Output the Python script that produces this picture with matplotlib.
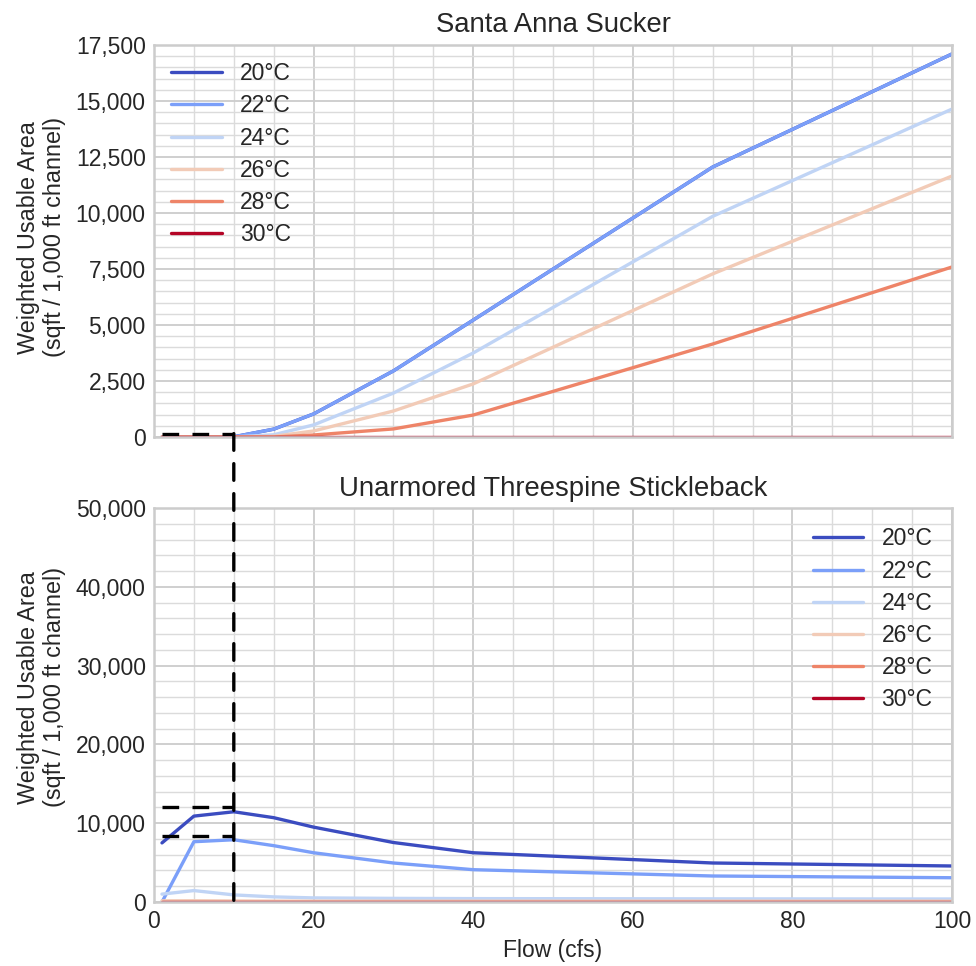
import matplotlib
matplotlib.use('Agg')
import matplotlib.pyplot as plt
import seaborn as sns
from matplotlib.patches import ConnectionPatch
from matplotlib.ticker import MultipleLocator, FuncFormatter

# Данные
flow = [1, 5, 10, 15, 20, 30, 40, 70, 100]
temps = ['20°C', '22°C', '24°C', '26°C', '28°C', '30°C']

sucker = {
    '20°C': [0, 0, 10, 350, 1030, 2950, 5220, 12050, 17100],
    '22°C': [0, 0, 10, 350, 1030, 2950, 5220, 12050, 17100],
    '24°C': [0, 0, 5, 100, 540, 1960, 3750, 9850, 14640],
    '26°C': [0, 0, 0, 30, 270, 1160, 2370, 7280, 11650],
    '28°C': [0, 0, 0, 0, 90, 360, 980, 4150, 7590],
    '30°C': [0, 0, 0, 0, 0, 0, 0, 0, 0],
}
stickleback = {
    '20°C': [7500, 10900, 11450, 10700, 9500, 7550, 6250, 4950, 4570],
    '22°C': [0, 7650, 7900, 7150, 6250, 4950, 4100, 3300, 3080],
    '24°C': [1000, 1450, 900, 650, 520, 460, 430, 400, 380],
    '26°C': [150, 160, 130, 110, 100, 100, 100, 100, 100],
    '28°C': [20, 20, 20, 20, 20, 20, 20, 20, 20],
    '30°C': [0, 0, 0, 0, 0, 0, 0, 0, 0],
}

# Пунктирные ориентиры
ref_flow = 10
ref_sucker = 150
ref_stickle = [12000, 8400]

sns.set_theme(style='whitegrid')
plt.rcParams['font.family'] = ['Liberation Sans', 'DejaVu Sans']
plt.rcParams['font.size'] = 16.5

colors = [plt.cm.coolwarm(i / 5) for i in range(6)]

fig = plt.figure(figsize=(9.76, 9.66), dpi=100)
ax1 = fig.add_axes([154 / 976, 1 - 437 / 966, 798 / 976, 392 / 966])
ax2 = fig.add_axes([154 / 976, 1 - 902 / 966, 798 / 976, 394 / 966])

fmt = FuncFormatter(lambda v, p: f'{int(v):,}')
ylab = 'Weighted Usable Area\n(sqft / 1,000 ft channel)'

for ax, data, ymax, ymaj, ymin, ly in [(ax1, sucker, 17500, 2500, 500, 0.51),
                                       (ax2, stickleback, 50000, 10000, 2000, 0.545)]:
    for t, c in zip(temps, colors):
        ax.plot(flow, data[t], color=c, lw=2.4, label=t)
    ax.set_xlim(0, 100)
    ax.set_ylim(0, ymax)
    ax.xaxis.set_major_locator(MultipleLocator(20))
    ax.xaxis.set_minor_locator(MultipleLocator(5))
    ax.yaxis.set_major_locator(MultipleLocator(ymaj))
    ax.yaxis.set_minor_locator(MultipleLocator(ymin))
    ax.yaxis.set_major_formatter(fmt)
    ax.grid(which='major', color='0.8', lw=1.3)
    ax.grid(which='minor', color='0.86', lw=1.0)
    ax.tick_params(which='both', length=0, labelsize=16.5, pad=6, labelcolor='0.15')
    for s in ax.spines.values():
        s.set_edgecolor('0.8')
        s.set_linewidth(1.8)
    ax.set_ylabel(ylab, fontsize=16.8, color='0.15')
    ax.yaxis.set_label_coords(-0.11, ly)

ax1.tick_params(axis='x', labelbottom=False)
ax1.set_title('Santa Anna Sucker', fontsize=19.8, color='0.15', pad=9)
ax2.set_title('Unarmored Threespine Stickleback', fontsize=19.8, color='0.15', pad=9)
ax2.set_xlabel('Flow (cfs)', fontsize=16.5, color='0.15')

ax1.legend(loc='upper left', frameon=False, fontsize=16.5, handlelength=2.2,
           borderaxespad=0.35, labelspacing=0.4)
ax2.legend(loc='upper right', frameon=False, fontsize=16.5, handlelength=2.2,
           borderaxespad=0.45, labelspacing=0.4)

dash = (0, (5, 4))
ax1.plot([1, ref_flow], [ref_sucker, ref_sucker], color='black', lw=2.4, ls=dash)
for v in ref_stickle:
    ax2.plot([1, ref_flow], [v, v], color='black', lw=2.4, ls=dash)
con = ConnectionPatch(xyA=(ref_flow, ref_sucker), coordsA=ax1.transData,
                      xyB=(ref_flow, 0), coordsB=ax2.transData,
                      color='black', lw=2.4, ls=dash)
fig.add_artist(con)

plt.savefig('out.png', dpi=100)
plt.close()
